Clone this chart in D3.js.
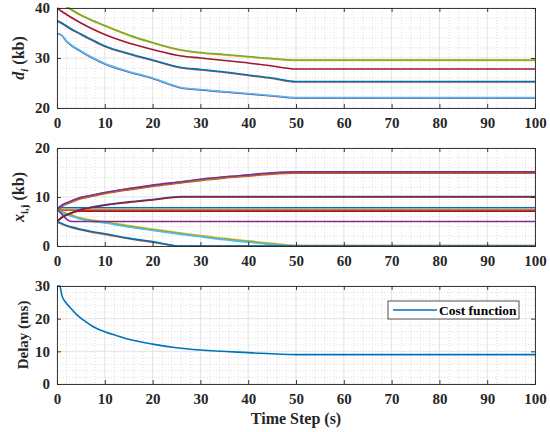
<!DOCTYPE html>
<html>
<head>
<meta charset="utf-8">
<script src="https://cdn.jsdelivr.net/npm/d3@7"></script>
<style>
  body { margin: 0; background: #fff; }
  svg text { font-family: "Liberation Serif", "Times New Roman", serif; font-weight: bold; }
</style>
</head>
<body>
<svg id="chart" width="550" height="432"></svg>
<script>
// x axis, shared by the three panels
const xTicks = [0, 10, 20, 30, 40, 50, 60, 70, 80, 90, 100];

// panel 1: d_i (kb)
const dTimes = [0, 1, 2, 3, 5, 7, 10, 15, 20, 26, 30, 35, 40, 45, 50, 100];
const dYellow = [41.7, 40.9, 40.2, 39.6, 38.5, 37.6, 36.4, 34.5, 33.0, 31.5, 31.0, 30.6, 30.2, 29.8, 29.5, 29.5];
const dGreen  = [41.8, 41.0, 40.3, 39.7, 38.6, 37.7, 36.5, 34.6, 33.1, 31.6, 31.1, 30.7, 30.3, 29.9, 29.6, 29.6];
const dRed    = [40.0, 39.3, 38.7, 38.1, 37.0, 36.0, 34.7, 33.0, 31.7, 30.4, 30.0, 29.5, 29.0, 28.4, 27.8, 27.8];
const dOrange = [37.4, 36.9, 36.3, 35.7, 34.7, 33.7, 32.3, 30.8, 29.5, 28.0, 27.6, 27.1, 26.5, 25.9, 25.2, 25.2];
const dBlue   = [37.5, 37.0, 36.4, 35.8, 34.8, 33.8, 32.4, 30.9, 29.6, 28.1, 27.7, 27.2, 26.6, 26.0, 25.3, 25.3];
const dPurple = [34.9, 34.5, 33.3, 32.5, 31.3, 30.2, 28.8, 27.2, 25.9, 24.0, 23.6, 23.2, 22.8, 22.4, 22.0, 22.0];
const dCyan   = [35.0, 34.6, 33.4, 32.6, 31.4, 30.3, 28.9, 27.3, 26.0, 24.1, 23.7, 23.3, 22.9, 22.5, 22.1, 22.1];

// panel 2: x_i,j (kb)
const xTimes = [0, 1, 2, 3, 5, 7, 10, 15, 20, 26, 30, 35, 40, 45, 50, 100];
const xRiseHigh = [7.5, 8.2, 8.7, 9.1, 9.8, 10.2, 10.8, 11.6, 12.3, 13.0, 13.5, 14.0, 14.4, 14.8, 15.0, 15.0];
const xRiseMid  = [5.0, 5.8, 6.3, 6.7, 7.4, 7.8, 8.3, 8.9, 9.4, 10.0, 10.0, 10.0, 10.0, 10.0, 10.0, 10.0];
const xFlatBlue = [7.5, 7.8, 7.8, 7.8, 7.8, 7.8, 7.8, 7.8, 7.8, 7.8, 7.8, 7.8, 7.8, 7.8, 7.8, 7.8];
const xFlatOrg  = [7.5, 7.4, 7.4, 7.4, 7.4, 7.4, 7.4, 7.4, 7.4, 7.4, 7.4, 7.4, 7.4, 7.4, 7.4, 7.4];
const xFlatRed  = [5.0, 5.8, 6.4, 6.8, 7.1, 7.1, 7.1, 7.1, 7.1, 7.1, 7.1, 7.1, 7.1, 7.1, 7.1, 7.1];
const xFlatPur  = [7.5, 6.5, 5.5, 5.0, 5.0, 5.0, 5.0, 5.0, 5.0, 5.0, 5.0, 5.0, 5.0, 5.0, 5.0, 5.0];
const xFallSlow = [7.5, 6.9, 6.5, 6.2, 5.6, 5.2, 4.8, 4.0, 3.3, 2.5, 2.0, 1.4, 0.9, 0.4, 0.0, 0.0];
const xFallFast = [5.0, 4.6, 4.2, 3.9, 3.4, 3.0, 2.5, 1.6, 0.9, 0.0, 0.0, 0.0, 0.0, 0.0, 0.0, 0.0];

// panel 3: delay (ms)
const costTimes = [0, 0.6, 1, 1.7, 2.7, 4, 5.5, 7.5, 10, 12.5, 15, 20, 25, 30, 40, 50, 100];
const costValues = [30, 30, 27.2, 25.2, 23.5, 21.4, 19.6, 17.6, 16.0, 14.8, 13.7, 12.2, 11.1, 10.4, 9.6, 9.0, 9.0];

const C = {
  blue: "#0072BD", orange: "#D95319", yellow: "#EDB120", purple: "#7E2F8E",
  green: "#77AC30", cyan: "#4DBEEE", red: "#A2142F"
};

const svg = d3.select("#chart");
const left = 57, right = 535;

const x = d3.scaleLinear().domain([0, 100]).range([left, right]);

function panel(top, bottom, yDomain, yTicks, series, id) {
  const y = d3.scaleLinear().domain(yDomain).range([bottom, top]);
  const g = svg.append("g");

  g.append("rect").attr("x", left).attr("y", top)
    .attr("width", right - left).attr("height", bottom - top).attr("fill", "#fff");

  // minor grid (every 2 units)
  const minorX = d3.range(0, 101, 2).filter(v => v % 10 !== 0);
  const minorY = d3.range(yDomain[0], yDomain[1] + 0.1, 2).filter(v => v % 10 !== 0);
  g.selectAll(".mx").data(minorX).join("line")
    .attr("x1", d => x(d)).attr("x2", d => x(d)).attr("y1", top).attr("y2", bottom)
    .attr("stroke", "#bdbdbd").attr("stroke-width", 0.5).attr("stroke-dasharray", "1,2");
  g.selectAll(".my").data(minorY).join("line")
    .attr("x1", left).attr("x2", right).attr("y1", d => y(d)).attr("y2", d => y(d))
    .attr("stroke", "#bdbdbd").attr("stroke-width", 0.5).attr("stroke-dasharray", "1,2");

  // major grid
  g.selectAll(".gx").data(xTicks).join("line")
    .attr("x1", d => x(d)).attr("x2", d => x(d)).attr("y1", top).attr("y2", bottom)
    .attr("stroke", "#dcdcdc").attr("stroke-width", 0.8);
  g.selectAll(".gy").data(yTicks).join("line")
    .attr("x1", left).attr("x2", right).attr("y1", d => y(d)).attr("y2", d => y(d))
    .attr("stroke", "#dcdcdc").attr("stroke-width", 0.8);

  // lines
  svg.append("clipPath").attr("id", id).append("rect")
    .attr("x", left).attr("y", top - 1).attr("width", right - left).attr("height", bottom - top + 2);
  const lineG = g.append("g").attr("clip-path", `url(#${id})`);
  series.forEach(s => {
    const pts = s.t.map((t, i) => [t, s.v[i]]);
    lineG.append("path").datum(pts)
      .attr("fill", "none").attr("stroke", s.c).attr("stroke-width", 1.6)
      .attr("d", d3.line().x(d => x(d[0])).y(d => y(d[1])).curve(d3.curveMonotoneX));
  });

  // axes (ticks inside, box on)
  const ax = g.append("g").attr("transform", `translate(0,${bottom})`)
    .call(d3.axisBottom(x).tickValues(xTicks).tickSize(-4).tickPadding(9));
  const axTop = g.append("g").attr("transform", `translate(0,${top})`)
    .call(d3.axisTop(x).tickValues(xTicks).tickSize(-4).tickFormat(""));
  const ay = g.append("g").attr("transform", `translate(${left},0)`)
    .call(d3.axisLeft(y).tickValues(yTicks).tickSize(-4).tickPadding(7));
  const ayR = g.append("g").attr("transform", `translate(${right},0)`)
    .call(d3.axisRight(y).tickValues(yTicks).tickSize(-4).tickFormat(""));
  [ax, axTop, ay, ayR].forEach(a => {
    a.select(".domain").attr("stroke", "#262626").attr("stroke-width", 0.9);
    a.selectAll(".tick line").attr("stroke", "#262626").attr("stroke-width", 0.9);
    a.selectAll("text").attr("fill", "#262626").style("font-size", "15px")
      .style("font-family", "'Liberation Serif', serif").style("font-weight", "bold");
  });
  return { g, y };
}

// top panel
panel(8, 108, [20, 40], [20, 30, 40], [
  { t: dTimes, v: dYellow, c: C.yellow },
  { t: dTimes, v: dGreen, c: C.green },
  { t: dTimes, v: dRed, c: C.red },
  { t: dTimes, v: dOrange, c: C.orange },
  { t: dTimes, v: dBlue, c: C.blue },
  { t: dTimes, v: dPurple, c: C.purple },
  { t: dTimes, v: dCyan, c: C.cyan }
], "clip1");

// middle panel
panel(148, 246, [0, 20], [0, 10, 20], [
  { t: xTimes, v: xRiseHigh.map(v => v - 0.15), c: C.orange },
  { t: xTimes, v: xRiseHigh.map(v => v + 0.05), c: C.green },
  { t: xTimes, v: xRiseHigh.map(v => v + 0.12), c: C.purple },
  { t: xTimes, v: xFallSlow.map(v => v + 0.15), c: C.yellow },
  { t: xTimes, v: xFallSlow, c: C.green },
  { t: xTimes, v: xFallSlow.map(v => Math.max(0, v - 0.12)), c: C.cyan },
  { t: xTimes, v: xFallFast.map(v => Math.max(0, v - 0.12)), c: C.orange },
  { t: xTimes, v: xFallFast, c: C.blue },
  { t: xTimes, v: xFlatPur, c: C.purple },
  { t: xTimes, v: xFlatOrg, c: C.yellow },
  { t: xTimes, v: xFlatOrg.map(v => v - 0.1), c: C.orange },
  { t: xTimes, v: xFlatRed, c: C.red },
  { t: xTimes, v: xFlatBlue, c: C.blue },
  { t: xTimes, v: xRiseMid.map(v => v + 0.1), c: C.blue },
  { t: xTimes, v: xRiseMid, c: C.red }
], "clip2");

// bottom panel
panel(286, 384, [0, 30], [0, 10, 20, 30], [
  { t: costTimes, v: costValues, c: C.blue }
], "clip3");

// y labels
const yl1 = svg.append("text").attr("transform", "translate(24,58) rotate(-90)")
  .attr("text-anchor", "middle").style("font-size", "16px").attr("fill", "#262626");
yl1.append("tspan").text("d").style("font-style", "italic");
yl1.append("tspan").text("i").style("font-style", "italic").style("font-size", "11px").attr("dy", 4);
yl1.append("tspan").text(" (kb)").attr("dy", -4);

const yl2 = svg.append("text").attr("transform", "translate(24,197) rotate(-90)")
  .attr("text-anchor", "middle").style("font-size", "16px").attr("fill", "#262626");
yl2.append("tspan").text("x").style("font-style", "italic");
yl2.append("tspan").text("i,j").style("font-size", "11px").attr("dy", 4);
yl2.append("tspan").text(" (kb)").attr("dy", -4);

svg.append("text").attr("transform", "translate(28,335) rotate(-90)")
  .attr("text-anchor", "middle").style("font-size", "15px").attr("fill", "#262626")
  .text("Delay (ms)");

// x label
svg.append("text").attr("x", (left + right) / 2).attr("y", 424)
  .attr("text-anchor", "middle").style("font-size", "16px").attr("fill", "#262626")
  .text("Time Step (s)");

// legend
const lg = svg.append("g");
lg.append("rect").attr("x", 388).attr("y", 301).attr("width", 131).attr("height", 18)
  .attr("fill", "#fff").attr("stroke", "#262626").attr("stroke-width", 0.8);
lg.append("line").attr("x1", 393).attr("x2", 437).attr("y1", 310).attr("y2", 310)
  .attr("stroke", C.blue).attr("stroke-width", 1.6);
lg.append("text").attr("x", 439).attr("y", 315).style("font-size", "13.5px").attr("fill", "#000")
  .text("Cost function");
</script>
</body>
</html>
